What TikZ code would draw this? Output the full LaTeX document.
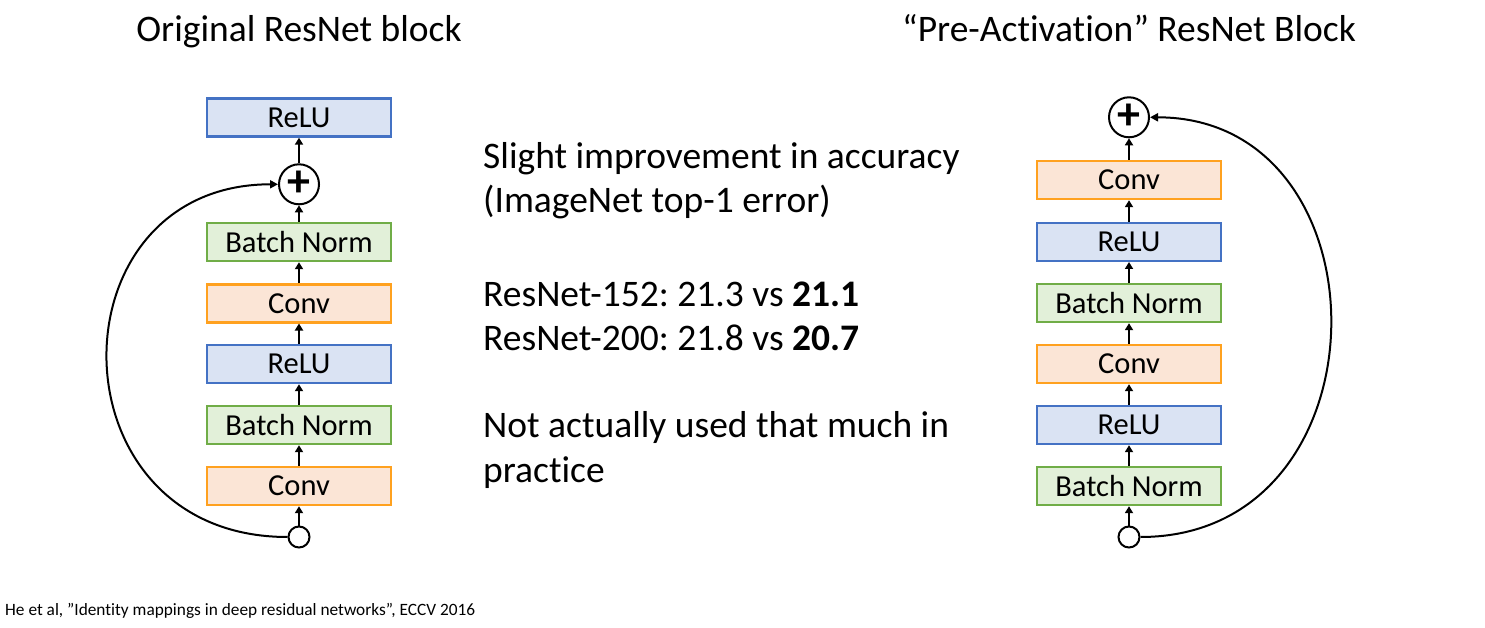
\documentclass[tikz,border=0pt]{standalone}
\usepackage{fontspec}
\setmainfont{Carlito}[Ligatures=NoCommon]
\usetikzlibrary{arrows.meta}
\frenchspacing
\definecolor{bluefill}{HTML}{DAE3F3}
\definecolor{blueline}{HTML}{4472C4}
\definecolor{greenfill}{HTML}{E2F0D9}
\definecolor{greenline}{HTML}{70AD47}
\definecolor{orangefill}{HTML}{FBE5D6}
\definecolor{orangeline}{HTML}{FFA11F}
\tikzset{
  layer/.style={minimum width=184pt, minimum height=38pt, inner sep=0pt, line width=2.4pt, font=\fontsize{30.5}{34}\selectfont},
  relubox/.style={layer, draw=blueline, fill=bluefill},
  bnbox/.style={layer, draw=greenline, fill=greenfill},
  convbox/.style={layer, draw=orangeline, fill=orangefill},
  plusnode/.style={circle, draw, line width=2pt, minimum size=40pt, inner sep=0pt, font=\fontsize{46}{46}\bfseries\selectfont},
  innode/.style={circle, draw, line width=2pt, minimum size=21pt, inner sep=0pt, fill=white},
  flow/.style={-{Triangle[length=7pt,width=8pt]}, line width=2.6pt},
  skip/.style={-{Triangle[length=8pt,width=8pt]}, line width=2pt},
  body/.style={anchor=west, inner sep=0pt, font=\fontsize{37.5}{44}\selectfont, align=left},
  title/.style={anchor=base, font=\fontsize{37.5}{40}\selectfont},
}
\begin{document}
\begin{tikzpicture}[x=1pt,y=-1pt]
\useasboundingbox (0,0) rectangle (1485,628);
% titles
\node[title] (t1) at (299,42) {Original ResNet block};
\node[title] (t2) at (1129,42) {``Pre-Activation'' ResNet Block};
% left block
\node[relubox] (l6) at (299,117.5) {ReLU};
\node[plusnode] (lp) at (299,184.3) {\raisebox{1pt}{+}};
\node[bnbox] (l5) at (299,242) {Batch Norm};
\node[convbox] (l4) at (299,303.3) {Conv};
\node[relubox] (l3) at (299,364) {ReLU};
\node[bnbox] (l2) at (299,425) {Batch Norm};
\node[convbox] (l1) at (299,486) {Conv};
\node[innode] (l0) at (299,537) {};
\draw[flow] (l0) -- (l1);
\draw[flow] (l1) -- (l2);
\draw[flow] (l2) -- (l3);
\draw[flow] (l3) -- (l4);
\draw[flow] (l4) -- (l5);
\draw[flow] (l5) -- (lp);
\draw[flow] (lp) -- (l6);
\draw[skip] (l0.west) .. controls (49,537) and (49,184.3) .. (lp.west);
% right block
\node[plusnode] (rp) at (1129,117.3) {\raisebox{1pt}{+}};
\node[convbox] (r6) at (1129,180) {Conv};
\node[relubox] (r5) at (1129,241.8) {ReLU};
\node[bnbox] (r4) at (1129,303) {Batch Norm};
\node[convbox] (r3) at (1129,364) {Conv};
\node[relubox] (r2) at (1129,425) {ReLU};
\node[bnbox] (r1) at (1129,486) {Batch Norm};
\node[innode] (r0) at (1129,537) {};
\draw[flow] (r0) -- (r1);
\draw[flow] (r1) -- (r2);
\draw[flow] (r2) -- (r3);
\draw[flow] (r3) -- (r4);
\draw[flow] (r4) -- (r5);
\draw[flow] (r5) -- (r6);
\draw[flow] (r6) -- (rp);
\draw[skip] (r0.east) .. controls (1392,537) and (1392,117.3) .. (rp.east);
% middle text
\node[body] (m1) at (483,180.5) {Slight improvement in accuracy\\(ImageNet top-1 error)};
\node[body] (m2) at (483,316.5) {ResNet-152: 21.3 vs \textbf{21.1}\\ResNet-200: 21.8 vs \textbf{20.7}};
\node[body] (m3) at (483,450) {Not actually used that much in\\practice};
% footnote
\node[anchor=west, inner sep=0pt, font=\fontsize{17.3}{19}\selectfont] (fn) at (5,611) {He et al, ''Identity mappings in deep residual networks'', ECCV 2016};
\end{tikzpicture}
\end{document}
